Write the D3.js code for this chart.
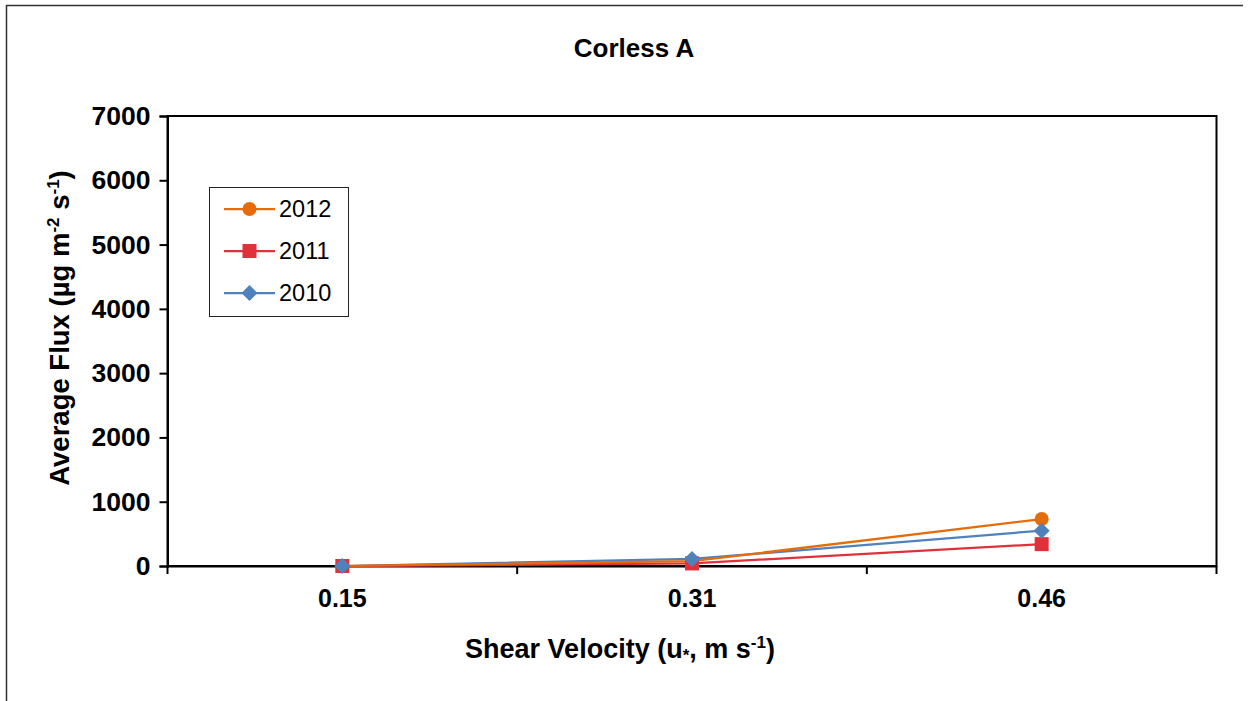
<!DOCTYPE html>
<html>
<head>
<meta charset="utf-8">
<script src="https://cdn.jsdelivr.net/npm/d3@7"></script>
<style>
  html, body { margin: 0; padding: 0; background: #fff; }
  svg { display: block; font-family: "Liberation Sans", Arial, sans-serif; }
</style>
</head>
<body>
<svg id="chart" width="1252" height="701"></svg>
<script>
// Shear velocity categories and average flux per year (µg m-2 s-1)
const categories = ["0.15", "0.31", "0.46"];
const flux2012 = [0, 75, 730];
const flux2011 = [0, 40, 340];
const flux2010 = [0, 110, 550];
const yTicks = [0, 1000, 2000, 3000, 4000, 5000, 6000, 7000];

const series = [
  { name: "2012", values: flux2012, color: "#E46C0A", marker: "circle" },
  { name: "2011", values: flux2011, color: "#E0303A", marker: "square" },
  { name: "2010", values: flux2010, color: "#4F81BD", marker: "diamond" }
];

const svg = d3.select("#chart");
const plot = { left: 167.5, right: 1216.5, top: 116, bottom: 566 };
const FONT = "Liberation Sans, Arial, sans-serif";

// Outer chart frame (top and left edges)
svg.append("path")
  .attr("d", "M6.5,701 V5.5 H1243")
  .attr("fill", "none").attr("stroke", "#333").attr("stroke-width", 1.5);

// Title
svg.append("text")
  .attr("x", 634).attr("y", 57)
  .attr("text-anchor", "middle")
  .attr("font-size", 26).attr("font-weight", "bold")
  .text("Corless A");

const x = d3.scaleBand().domain(categories).range([plot.left, plot.right]);
const y = d3.scaleLinear().domain([0, 7000]).range([plot.bottom, plot.top]);

// Plot area frame
svg.append("rect")
  .attr("x", plot.left).attr("y", plot.top)
  .attr("width", plot.right - plot.left).attr("height", plot.bottom - plot.top)
  .attr("fill", "none").attr("stroke", "#000").attr("stroke-width", 2);

// Y axis
const yAxis = svg.append("g")
  .attr("transform", `translate(${plot.left},0)`)
  .call(d3.axisLeft(y).tickValues(yTicks).tickSize(8).tickPadding(9).tickFormat(d3.format("d")));
yAxis.attr("font-size", null).attr("font-family", null);
yAxis.select(".domain").attr("stroke", "#000").attr("stroke-width", 2);
yAxis.selectAll(".tick line").attr("stroke", "#000").attr("stroke-width", 2);
yAxis.selectAll(".tick text")
  .attr("font-size", 26.5).attr("font-weight", "bold").attr("fill", "#000")
  .attr("font-family", FONT);

// X axis: labels centered in bands, ticks at band boundaries
const xAxis = svg.append("g")
  .attr("transform", `translate(0,${plot.bottom})`)
  .call(d3.axisBottom(x).tickSize(0).tickPadding(23));
xAxis.attr("font-size", null).attr("font-family", null);
xAxis.select(".domain").attr("stroke", "#000").attr("stroke-width", 2);
xAxis.selectAll(".tick text")
  .attr("font-size", 25).attr("font-weight", "bold").attr("fill", "#000")
  .attr("font-family", FONT);
const bounds = categories.map(c => x(c)).concat([x(categories[categories.length - 1]) + x.bandwidth()]);
svg.append("g").selectAll("line").data(bounds).join("line")
  .attr("x1", d => d).attr("x2", d => d)
  .attr("y1", plot.bottom).attr("y2", plot.bottom + 8)
  .attr("stroke", "#000").attr("stroke-width", 2);

// Axis titles
const yTitle = svg.append("text")
  .attr("transform", "translate(69,328) rotate(-90)")
  .attr("text-anchor", "middle")
  .attr("font-size", 27.5).attr("font-weight", "bold");
yTitle.append("tspan").text("Average Flux (µg m");
yTitle.append("tspan").attr("dy", -10).attr("font-size", 17).text("-2");
yTitle.append("tspan").attr("dy", 10).text(" s");
yTitle.append("tspan").attr("dy", -10).attr("font-size", 17).text("-1");
yTitle.append("tspan").attr("dy", 10).text(")");

const xTitle = svg.append("text")
  .attr("x", 620).attr("y", 658)
  .attr("text-anchor", "middle")
  .attr("font-size", 27).attr("font-weight", "bold");
xTitle.append("tspan").text("Shear Velocity (u");
xTitle.append("tspan").attr("dy", 3).attr("font-size", 17).text("*");
xTitle.append("tspan").attr("dy", -3).text(", m s");
xTitle.append("tspan").attr("dy", -10).attr("font-size", 17).text("-1");
xTitle.append("tspan").attr("dy", 10).text(")");

// Marker drawing helper
function drawMarker(g, type, color) {
  if (type === "circle") {
    g.append("circle").attr("r", 7).attr("fill", color);
  } else if (type === "square") {
    g.append("rect").attr("x", -7).attr("y", -7).attr("width", 14).attr("height", 14).attr("fill", color);
  } else {
    g.append("path").attr("d", "M0,-8 L8,0 L0,8 L-8,0 Z").attr("fill", color);
  }
}

const cx = c => x(c) + x.bandwidth() / 2;
const line = d3.line().x((d, i) => cx(categories[i])).y(d => y(d));

// Series lines, then markers
series.slice().reverse().forEach(s => {
  svg.append("path").datum(s.values)
    .attr("d", line).attr("fill", "none")
    .attr("stroke", s.color).attr("stroke-width", 2.25);
});
series.forEach(s => {
  s.values.forEach((v, i) => {
    const m = svg.append("g").attr("transform", `translate(${cx(categories[i])},${y(v)})`);
    drawMarker(m, s.marker, s.color);
  });
});

// Legend
const legend = svg.append("g");
legend.append("rect")
  .attr("x", 209.5).attr("y", 187.5).attr("width", 139).attr("height", 129)
  .attr("fill", "#fff").attr("stroke", "#222").attr("stroke-width", 1);
series.forEach((s, i) => {
  const ly = 209 + i * 42;
  const item = legend.append("g");
  item.append("line").attr("x1", 224).attr("x2", 275).attr("y1", ly).attr("y2", ly)
    .attr("stroke", s.color).attr("stroke-width", 2.25);
  const m = item.append("g").attr("transform", `translate(249.5,${ly})`);
  drawMarker(m, s.marker, s.color);
  item.append("text").attr("x", 279).attr("y", ly + 8)
    .attr("font-size", 23.5).text(s.name);
});
</script>
</body>
</html>
